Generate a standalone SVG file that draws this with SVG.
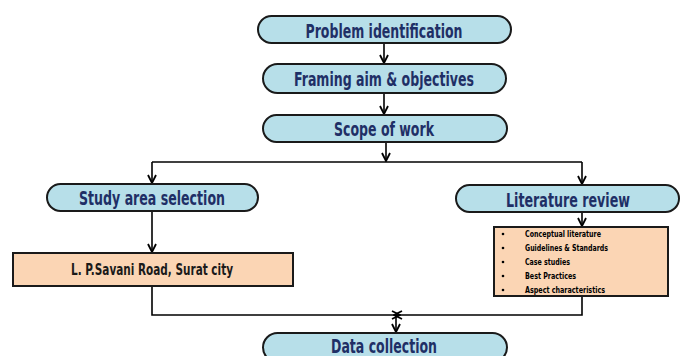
<svg xmlns="http://www.w3.org/2000/svg" width="683" height="356" viewBox="0 0 683 356">
<defs>
<marker id="ah" viewBox="0 0 10 10" refX="9" refY="5" markerWidth="10" markerHeight="10" markerUnits="userSpaceOnUse" orient="auto">
<path d="M1,1 L9,5 L1,9" fill="none" stroke="#000" stroke-width="1.8"/>
</marker>
<style>
.pill{fill:#b7dfe9;stroke:#1a1a1a;stroke-width:2}
.box{fill:#fbd5b4;stroke:#1a1a1a;stroke-width:2}
.t{font-family:"DejaVu Sans","Liberation Sans",sans-serif;font-weight:bold;font-stretch:condensed;fill:#1f2f66;font-size:19px;text-anchor:middle}
.s{font-family:"DejaVu Sans","Liberation Sans",sans-serif;font-weight:bold;font-stretch:condensed;fill:#1a1a1a;font-size:15px;text-anchor:middle}
.l{font-family:"DejaVu Sans","Liberation Sans",sans-serif;font-weight:bold;font-stretch:condensed;fill:#000;font-size:9.5px}
.c{fill:none;stroke:#000;stroke-width:1.6}
</style>
</defs>
<g id="connectors">
<path class="c" d="M384,43 V63" marker-end="url(#ah)"/>
<path class="c" d="M384,93 V114" marker-end="url(#ah)"/>
<path class="c" d="M386,142 V161" marker-end="url(#ah)"/>
<path class="c" d="M152,162 H582"/>
<path class="c" d="M152,162 V183" marker-end="url(#ah)"/>
<path class="c" d="M582,162 V184" marker-end="url(#ah)"/>
<path class="c" d="M152,211 V252" marker-end="url(#ah)"/>
<path class="c" d="M582,212 V226" marker-end="url(#ah)"/>
<path class="c" d="M152,286 V315 H400" marker-end="url(#ah)"/>
<path class="c" d="M582,296 V315 H394" marker-end="url(#ah)"/>
<path class="c" d="M396,315 V332" marker-end="url(#ah)"/>
</g>
<g id="problem">
<rect class="pill" x="258" y="16" width="253" height="27" rx="13.5"/>
<text class="t" x="384" y="38" textLength="157" lengthAdjust="spacingAndGlyphs">Problem identification</text>
</g>
<g id="framing">
<rect class="pill" x="263" y="64" width="243" height="29" rx="14.5"/>
<text class="t" x="384" y="86" textLength="180" lengthAdjust="spacingAndGlyphs">Framing aim &amp; objectives</text>
</g>
<g id="scope">
<rect class="pill" x="263" y="115" width="244" height="27" rx="13.5"/>
<text class="t" x="384" y="136" textLength="100" lengthAdjust="spacingAndGlyphs">Scope of work</text>
</g>
<g id="study">
<rect class="pill" x="47" y="184" width="211" height="27" rx="13.5"/>
<text class="t" x="152" y="205" textLength="146" lengthAdjust="spacingAndGlyphs">Study area selection</text>
</g>
<g id="literature">
<rect class="pill" x="456" y="185" width="223" height="27" rx="13.5"/>
<text class="t" x="568" y="207" textLength="124" lengthAdjust="spacingAndGlyphs">Literature review</text>
</g>
<g id="savani">
<rect class="box" x="13" y="253" width="280" height="33"/>
<text class="s" x="152" y="275" textLength="162" lengthAdjust="spacingAndGlyphs">L. P.Savani Road, Surat city</text>
</g>
<g id="litlist">
<rect class="box" x="494" y="227" width="174" height="69"/>
<g fill="#000">
<circle cx="503" cy="234" r="1.3"/>
<circle cx="503" cy="248" r="1.3"/>
<circle cx="503" cy="262" r="1.3"/>
<circle cx="503" cy="276" r="1.3"/>
<circle cx="503" cy="290" r="1.3"/>
</g>
<text class="l" x="525" y="237" textLength="76" lengthAdjust="spacingAndGlyphs">Conceptual literature</text>
<text class="l" x="525" y="251" textLength="83" lengthAdjust="spacingAndGlyphs">Guidelines &amp; Standards</text>
<text class="l" x="525" y="265" textLength="45" lengthAdjust="spacingAndGlyphs">Case studies</text>
<text class="l" x="525" y="279" textLength="51" lengthAdjust="spacingAndGlyphs">Best Practices</text>
<text class="l" x="525" y="293" textLength="80" lengthAdjust="spacingAndGlyphs">Aspect characteristics</text>
</g>
<g id="data">
<rect class="pill" x="263" y="333" width="244" height="29" rx="14.5"/>
<text class="t" x="384" y="353" textLength="106" lengthAdjust="spacingAndGlyphs">Data collection</text>
</g>
</svg>
